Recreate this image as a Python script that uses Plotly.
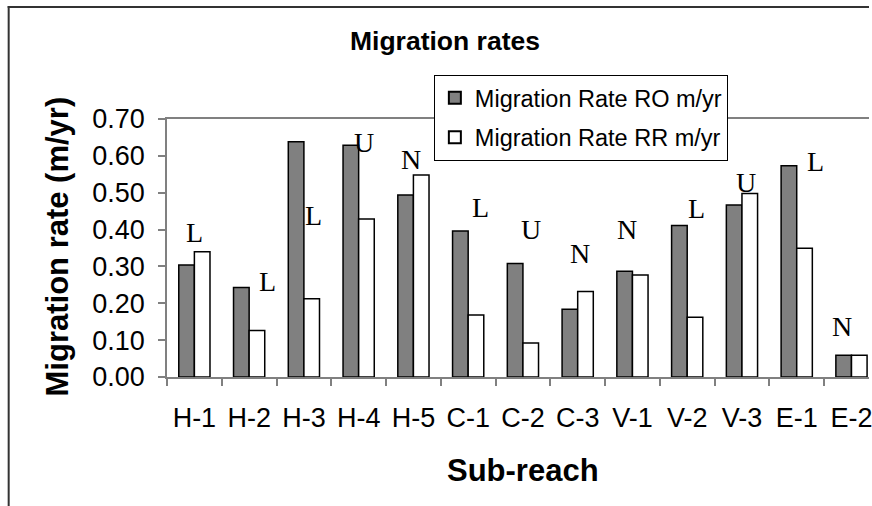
import plotly.graph_objects as go

categories = ["H-1", "H-2", "H-3", "H-4", "H-5", "C-1", "C-2", "C-3", "V-1", "V-2", "V-3", "E-1", "E-2"]
rate_ro = [0.304, 0.243, 0.638, 0.629, 0.494, 0.396, 0.308, 0.184, 0.287, 0.411, 0.467, 0.573, 0.059]
rate_rr = [0.340, 0.126, 0.212, 0.429, 0.548, 0.168, 0.092, 0.232, 0.277, 0.162, 0.498, 0.349, 0.059]
class_labels = ["L", "L", "L", "U", "N", "L", "U", "N", "N", "L", "U", "L", "N"]
label_x = [0.0, 1.34, 2.17, 3.1, 3.95, 5.23, 6.14, 7.05, 7.9, 9.17, 10.08, 11.35, 11.83]
label_y = [0.393, 0.260, 0.437, 0.635, 0.591, 0.461, 0.399, 0.334, 0.399, 0.458, 0.529, 0.586, 0.138]
y_ticks = [0.0, 0.1, 0.2, 0.3, 0.4, 0.5, 0.6, 0.7]

W, H = 872, 506
L, R, T, B = 167, 0, 119, 129
PW, PH = W - L - R, H - T - B
FONT = "Liberation Sans, Arial, sans-serif"
SERIF = "Liberation Serif, Times New Roman, serif"


def dom_x(p):
    return (p - L) / PW


def dom_y(p):
    return (H - p - B) / PH


fig = go.Figure()
fig.add_trace(go.Bar(
    x=categories, y=rate_ro, name="Migration Rate RO m/yr",
    marker=dict(color="#808080", line=dict(color="black", width=1.5)),
    legendgroup="a",
))
fig.add_trace(go.Bar(
    x=categories, y=rate_rr, name="Migration Rate RR m/yr",
    marker=dict(color="white", line=dict(color="black", width=1.5)),
    legendgroup="b",
))

annotations = []
for t, xx, yy in zip(class_labels, label_x, label_y):
    annotations.append(dict(x=xx, y=yy, xref="x", yref="y", text=t, showarrow=False,
                            xanchor="center", yanchor="middle",
                            font=dict(family=SERIF, size=28, color="black")))

annotations.append(dict(x=dom_x(446), y=dom_y(41), xref="paper", yref="paper",
                        text="<b>Migration rates</b>", showarrow=False,
                        xanchor="center", yanchor="middle",
                        font=dict(family=FONT, size=26.5, color="black")))
annotations.append(dict(x=dom_x(57.5), y=dom_y(246.5), xref="paper", yref="paper",
                        text="<b>Migration rate (m/yr)</b>", showarrow=False, textangle=-90,
                        xanchor="center", yanchor="middle",
                        font=dict(family=FONT, size=31, color="black")))
annotations.append(dict(x=dom_x(524.5), y=dom_y(470), xref="paper", yref="paper",
                        text="<b>Sub-reach</b>", showarrow=False,
                        xanchor="center", yanchor="middle",
                        font=dict(family=FONT, size=31, color="black")))

shapes = [
    dict(type="line", xref="paper", yref="paper",
         x0=dom_x(7), x1=dom_x(W),
         y0=dom_y(7), y1=dom_y(7),
         line=dict(color="#333333", width=2)),
    dict(type="line", xref="paper", yref="paper",
         x0=dom_x(8), x1=dom_x(8),
         y0=dom_y(6), y1=dom_y(H),
         line=dict(color="#333333", width=2)),
]

fig.update_layout(
    width=W, height=H,
    margin=dict(l=L, r=R, t=T, b=B, pad=0),
    paper_bgcolor="white", plot_bgcolor="white",
    barmode="group", bargap=0.43, bargroupgap=0,
    font=dict(family=FONT, color="black"),
    showlegend=True,
    legend=dict(
        x=dom_x(435), y=dom_y(75),
        xanchor="left", yanchor="top",
        bgcolor="white", bordercolor="black", borderwidth=1,
        font=dict(family=FONT, size=23.5, color="black"),
        tracegroupgap=6, traceorder="grouped",
        itemsizing="constant",
    ),
    annotations=annotations,
    shapes=shapes,
)
fig.update_xaxes(
    type="category", range=[-0.5, 12.32],
    showline=True, linecolor="#808080", linewidth=1.5, mirror=True,
    ticks="outside", ticklen=7, tickcolor="#808080", tickwidth=1.5,
    tickson="boundaries", showgrid=False, zeroline=False,
    tickfont=dict(family=FONT, size=27, color="black"),
    ticklabeloverflow="allow", ticklabelstandoff=16,
)
fig.update_yaxes(
    range=[0, 0.7], tickvals=y_ticks, tickformat=".2f",
    showline=True, linecolor="#808080", linewidth=1.5,
    ticks="outside", ticklen=7, tickcolor="#808080", tickwidth=1.5,
    showgrid=False, zeroline=False,
    tickfont=dict(family=FONT, size=27, color="black"),
    ticklabelstandoff=8,
)

fig.write_html("out.html", config={"displayModeBar": False})
